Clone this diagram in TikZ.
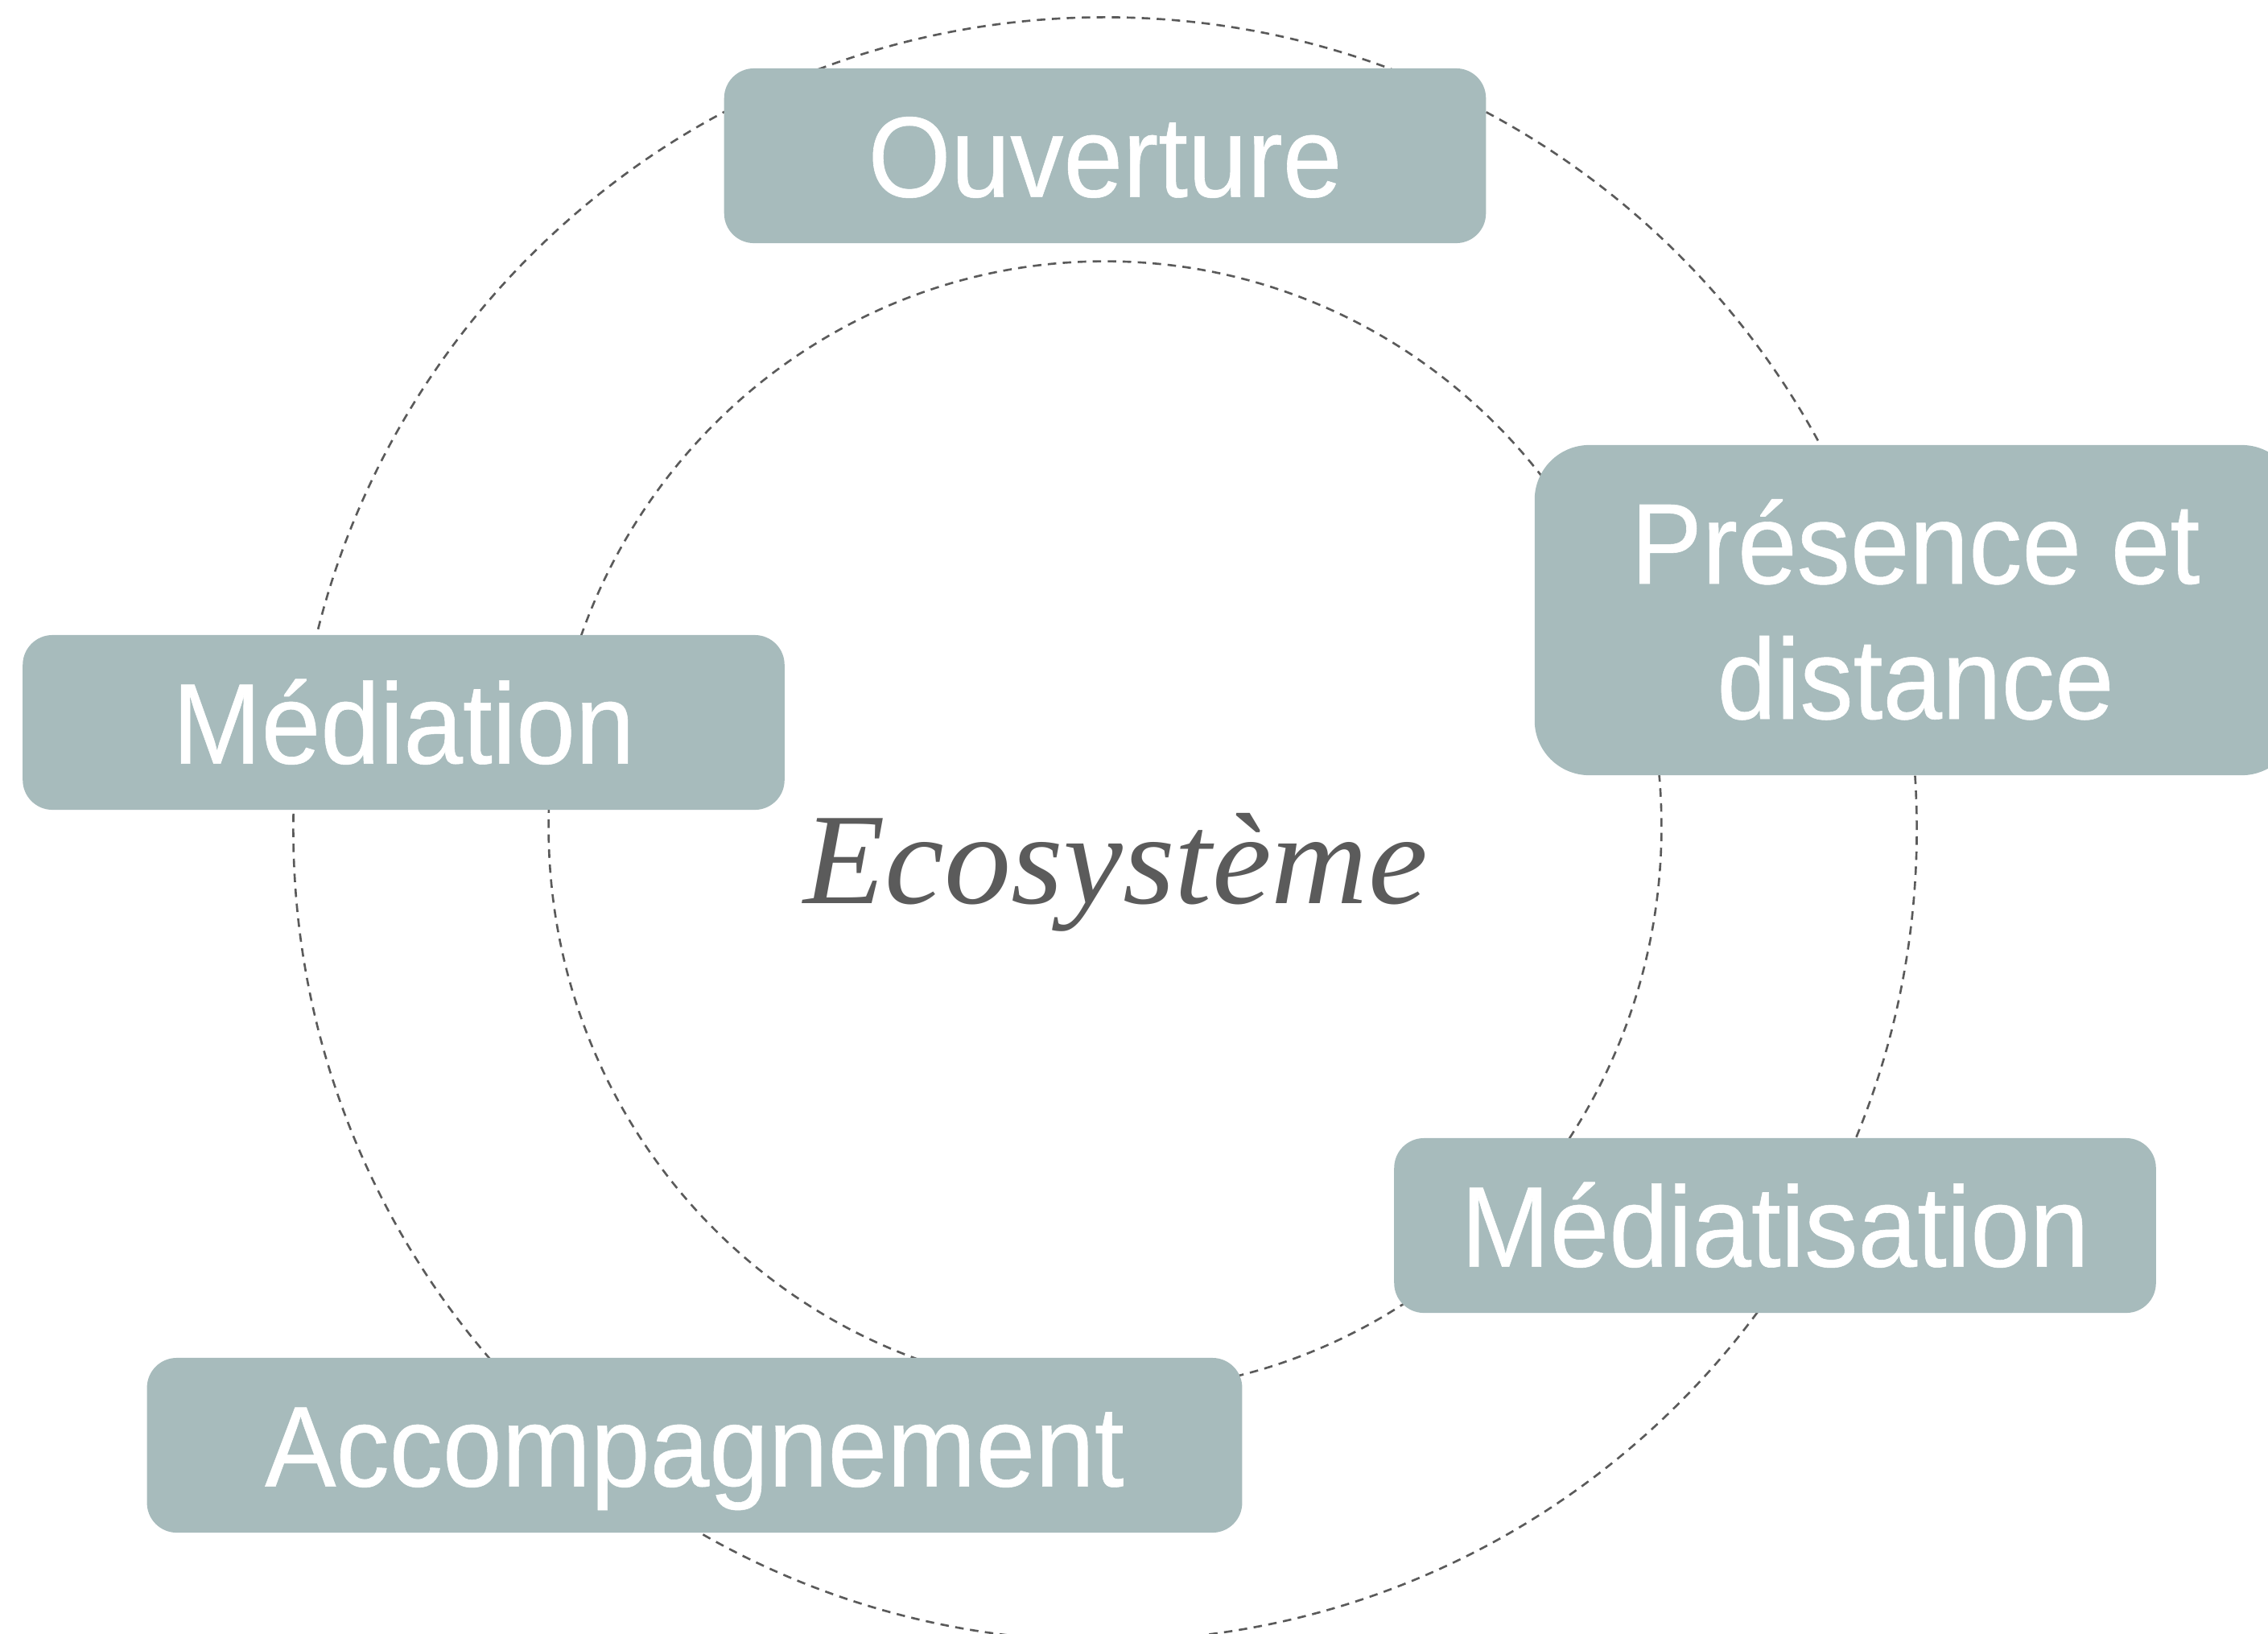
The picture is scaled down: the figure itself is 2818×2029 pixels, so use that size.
\documentclass[tikz,border=0pt]{standalone}
\usepackage{fontspec}
\setsansfont{Liberation Sans}[FakeStretch=0.93, FakeBold=0.4]
\newfontfamily\ecofont{Liberation Serif}[FakeStretch=1.03]
\usepackage{tikz}

\definecolor{boxfill}{RGB}{167,187,188}
\definecolor{ringline}{RGB}{90,90,90}
\definecolor{ecotext}{RGB}{91,91,91}
\newcommand{\themefont}{\sffamily\fontsize{40.5}{47.8}\selectfont}

\begin{document}
\begin{tikzpicture}[x=0.01cm, y=-0.01cm,
    ring/.style = {draw=ringline, line width=0.75pt, dash pattern=on 3pt off 2.3pt},
    theme/.style = {rectangle, rounded corners=0.37cm, fill=boxfill, text=white, font=\themefont,
                    minimum width=9.46cm, minimum height=2.17cm, text height=1.02cm, text depth=0pt}]

    \clip (0,0) rectangle (2818,2029);

    % Les deux cercles pointillés
    \draw[ring] (1373,1030) circle [radius=10.08cm];
    \draw[ring] (1373,1027) circle [x radius=6.91cm, y radius=7.02cm];

    % Les thèmes autour de l'écosystème
    \node[theme] (ouverture) at (1373,193.5) {Ouverture};
    \node[theme, rounded corners=0.68cm, minimum height=4.10cm, align=center,
          text height=2.70cm] (presence) at (2380,758) {Présence et\\distance};
    \node[theme] (mediation) at (501.5,897.5) {Médiation};
    \node[theme] (mediatisation) at (2205.5,1522.5) {Médiatisation};
    \node[theme, minimum width=13.6cm] (accomp) at (863,1795.5) {Accompagnement};

    % Centre
    \node[anchor=base, text=ecotext, font=\ecofont\fontsize{45.9}{52}\selectfont\itshape] (eco) at (1386,1122) {Ecosystème};

\end{tikzpicture}
\end{document}
